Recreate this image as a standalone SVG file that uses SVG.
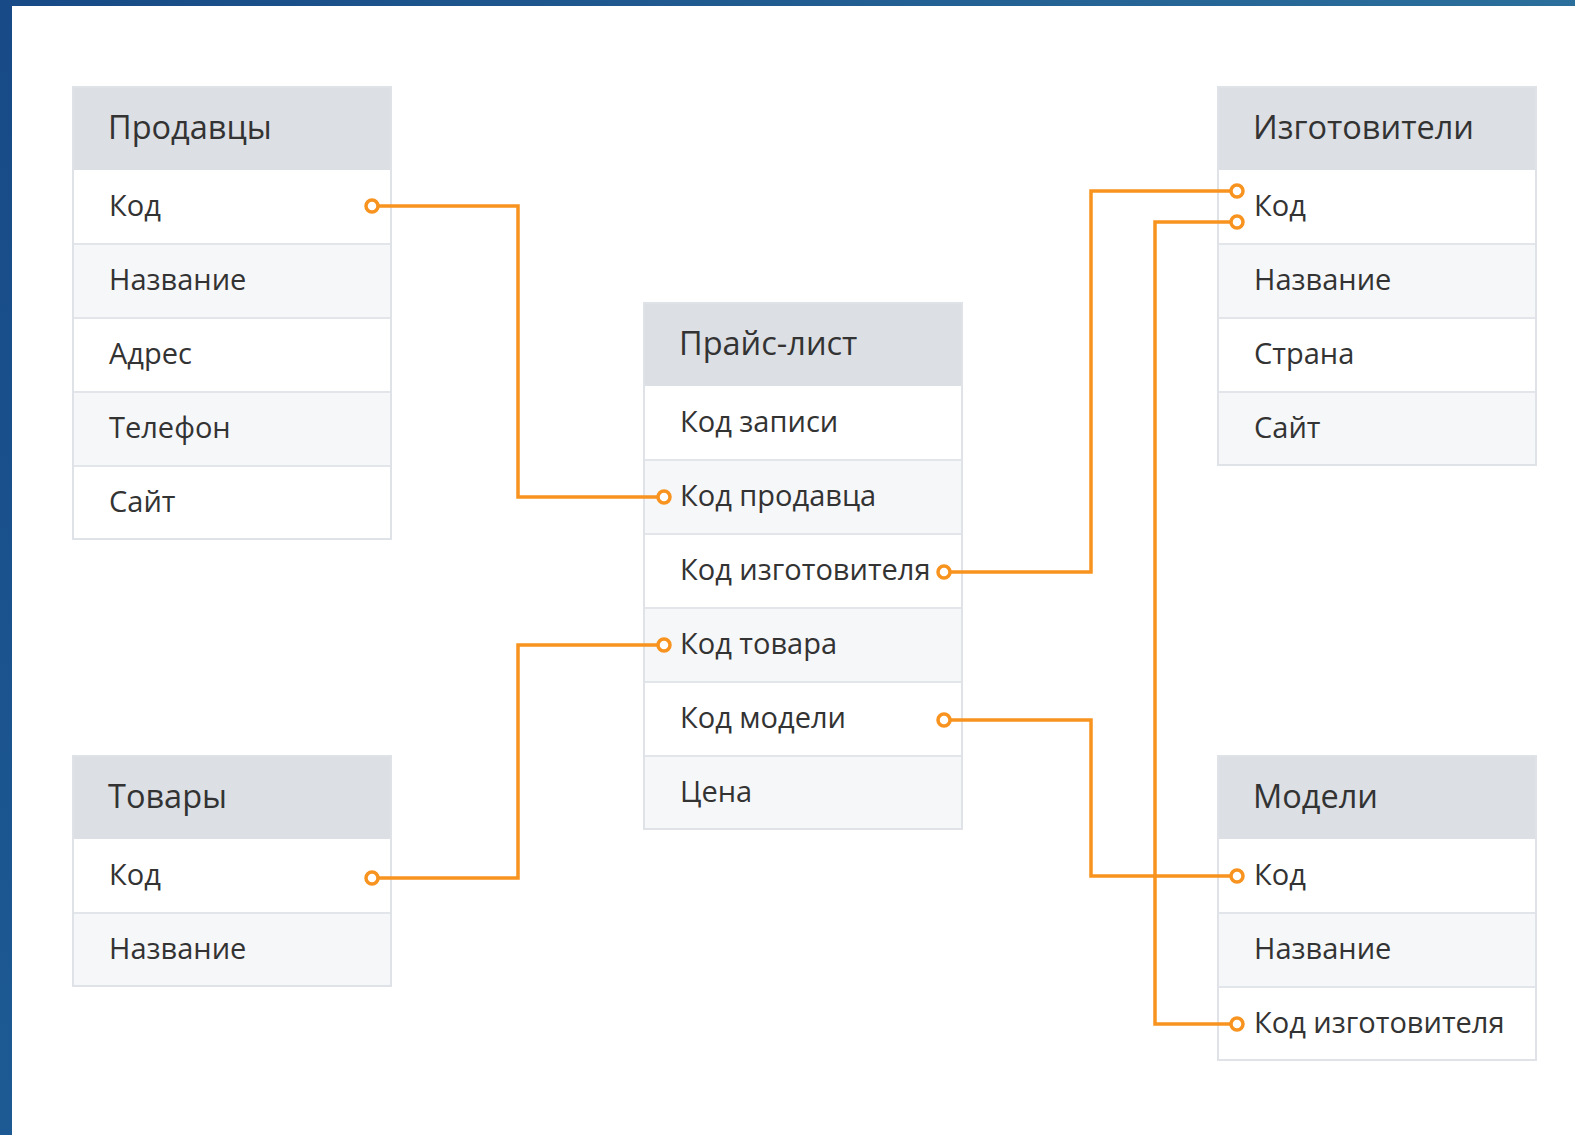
<svg xmlns="http://www.w3.org/2000/svg" width="1575" height="1135" viewBox="0 0 1575 1135">
<defs>
<linearGradient id="bg" x1="0" y1="1" x2="1" y2="0">
<stop offset="0" stop-color="#1d5a94"/>
<stop offset="0.5" stop-color="#174a86"/>
<stop offset="1" stop-color="#2b6f9c"/>
</linearGradient>
<style>
.hdr{fill:#dcdfe4}
.r0{fill:#ffffff}
.r1{fill:#f6f7f9}
.sep{stroke:#e2e5e9;stroke-width:2}
.frame{fill:none;stroke:#dfe2e6;stroke-width:2}
.ht{font-family:"Open Sans","Noto Sans",sans-serif;font-size:32.5px;fill:#333333}
.rt{font-family:"Open Sans","Noto Sans",sans-serif;font-size:29px;fill:#333333}
.con{fill:none;stroke:#f7931e;stroke-width:3.5;stroke-linejoin:miter}
.dot{fill:#ffffff;stroke:#f7931e;stroke-width:3.5}
</style>
</defs>
<rect x="0" y="0" width="1575" height="1135" fill="url(#bg)"/>
<rect x="12" y="6" width="1563" height="1129" fill="#ffffff"/>

<g id="sellers">
<rect class="hdr" x="72" y="86" width="320" height="84"/>
<rect class="r0" x="72" y="170" width="320" height="74"/>
<rect class="r1" x="72" y="244" width="320" height="74"/>
<rect class="r0" x="72" y="318" width="320" height="74"/>
<rect class="r1" x="72" y="392" width="320" height="74"/>
<rect class="r0" x="72" y="466" width="320" height="74"/>
<line class="sep" x1="72" y1="244" x2="392" y2="244"/>
<line class="sep" x1="72" y1="318" x2="392" y2="318"/>
<line class="sep" x1="72" y1="392" x2="392" y2="392"/>
<line class="sep" x1="72" y1="466" x2="392" y2="466"/>
<rect class="frame" x="73" y="87" width="318" height="452"/>
<text class="ht" x="108" y="139">Продавцы</text>
<text class="rt" x="109" y="216">Код</text>
<text class="rt" x="109" y="290">Название</text>
<text class="rt" x="109" y="364">Адрес</text>
<text class="rt" x="109" y="438">Телефон</text>
<text class="rt" x="109" y="512">Сайт</text>
</g>

<g id="pricelist">
<rect class="hdr" x="643" y="302" width="320" height="84"/>
<rect class="r0" x="643" y="386" width="320" height="74"/>
<rect class="r1" x="643" y="460" width="320" height="74"/>
<rect class="r0" x="643" y="534" width="320" height="74"/>
<rect class="r1" x="643" y="608" width="320" height="74"/>
<rect class="r0" x="643" y="682" width="320" height="74"/>
<rect class="r1" x="643" y="756" width="320" height="74"/>
<line class="sep" x1="643" y1="460" x2="963" y2="460"/>
<line class="sep" x1="643" y1="534" x2="963" y2="534"/>
<line class="sep" x1="643" y1="608" x2="963" y2="608"/>
<line class="sep" x1="643" y1="682" x2="963" y2="682"/>
<line class="sep" x1="643" y1="756" x2="963" y2="756"/>
<rect class="frame" x="644" y="303" width="318" height="526"/>
<text class="ht" x="679" y="355">Прайс-лист</text>
<text class="rt" x="680" y="432">Код записи</text>
<text class="rt" x="680" y="506">Код продавца</text>
<text class="rt" x="680" y="580">Код изготовителя</text>
<text class="rt" x="680" y="654">Код товара</text>
<text class="rt" x="680" y="728">Код модели</text>
<text class="rt" x="680" y="802">Цена</text>
</g>

<g id="makers">
<rect class="hdr" x="1217" y="86" width="320" height="84"/>
<rect class="r0" x="1217" y="170" width="320" height="74"/>
<rect class="r1" x="1217" y="244" width="320" height="74"/>
<rect class="r0" x="1217" y="318" width="320" height="74"/>
<rect class="r1" x="1217" y="392" width="320" height="74"/>
<line class="sep" x1="1217" y1="244" x2="1537" y2="244"/>
<line class="sep" x1="1217" y1="318" x2="1537" y2="318"/>
<line class="sep" x1="1217" y1="392" x2="1537" y2="392"/>
<rect class="frame" x="1218" y="87" width="318" height="378"/>
<text class="ht" x="1253" y="139">Изготовители</text>
<text class="rt" x="1254" y="216">Код</text>
<text class="rt" x="1254" y="290">Название</text>
<text class="rt" x="1254" y="364">Страна</text>
<text class="rt" x="1254" y="438">Сайт</text>
</g>

<g id="goods">
<rect class="hdr" x="72" y="755" width="320" height="84"/>
<rect class="r0" x="72" y="839" width="320" height="74"/>
<rect class="r1" x="72" y="913" width="320" height="74"/>
<line class="sep" x1="72" y1="913" x2="392" y2="913"/>
<rect class="frame" x="73" y="756" width="318" height="230"/>
<text class="ht" x="108" y="808">Товары</text>
<text class="rt" x="109" y="885">Код</text>
<text class="rt" x="109" y="959">Название</text>
</g>

<g id="models">
<rect class="hdr" x="1217" y="755" width="320" height="84"/>
<rect class="r0" x="1217" y="839" width="320" height="74"/>
<rect class="r1" x="1217" y="913" width="320" height="74"/>
<rect class="r0" x="1217" y="987" width="320" height="74"/>
<line class="sep" x1="1217" y1="913" x2="1537" y2="913"/>
<line class="sep" x1="1217" y1="987" x2="1537" y2="987"/>
<rect class="frame" x="1218" y="756" width="318" height="304"/>
<text class="ht" x="1253" y="808">Модели</text>
<text class="rt" x="1254" y="885">Код</text>
<text class="rt" x="1254" y="959">Название</text>
<text class="rt" x="1254" y="1033">Код изготовителя</text>
</g>

<g id="connectors">
<path class="con" d="M372,206 H518 V497 H664"/>
<path class="con" d="M372,878 H518 V645 H664"/>
<path class="con" d="M944,572 H1091 V191 H1237"/>
<path class="con" d="M944,720 H1091 V876 H1237"/>
<path class="con" d="M1237,222 H1155 V1024 H1237"/>
<circle class="dot" cx="372" cy="206" r="6"/>
<circle class="dot" cx="664" cy="497" r="6"/>
<circle class="dot" cx="372" cy="878" r="6"/>
<circle class="dot" cx="664" cy="645" r="6"/>
<circle class="dot" cx="944" cy="572" r="6"/>
<circle class="dot" cx="1237" cy="191" r="6"/>
<circle class="dot" cx="944" cy="720" r="6"/>
<circle class="dot" cx="1237" cy="876" r="6"/>
<circle class="dot" cx="1237" cy="222" r="6"/>
<circle class="dot" cx="1237" cy="1024" r="6"/>
</g>
</svg>
